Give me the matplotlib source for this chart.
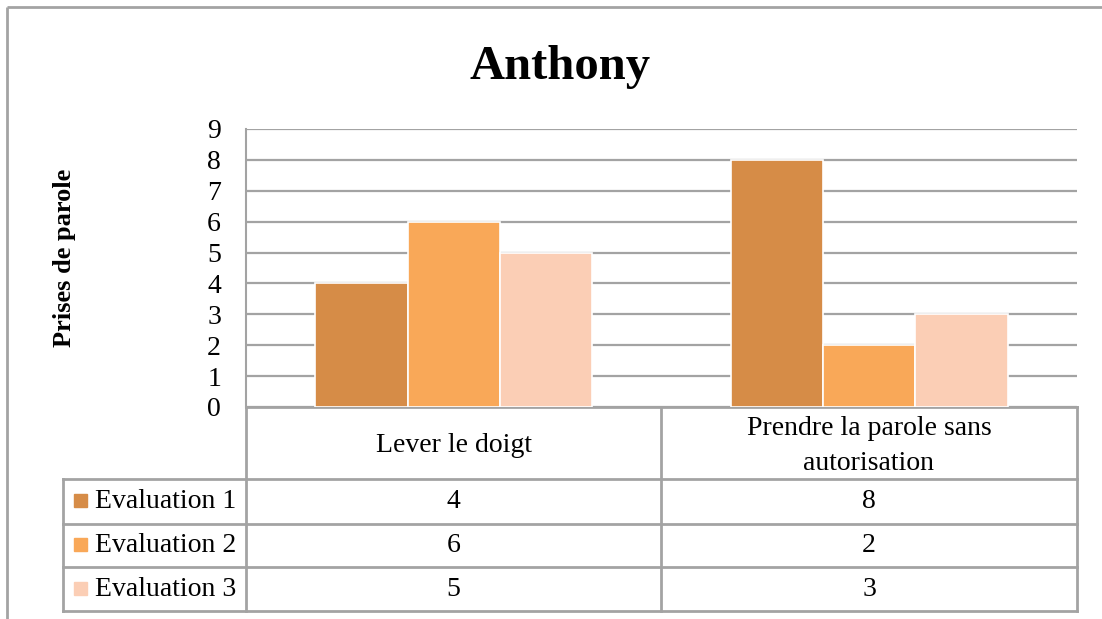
import matplotlib
matplotlib.use("Agg")
import matplotlib.pyplot as plt
import numpy as np

# ---- data ----
title = "Anthony"
ylabel = "Prises de parole"
categories = ["Lever le doigt", "Prendre la parole sans\nautorisation"]
series_names = ["Evaluation 1", "Evaluation 2", "Evaluation 3"]
eval1 = [4, 8]
eval2 = [6, 2]
eval3 = [5, 3]
colors = ["#D68C47", "#F9A858", "#FBCEB5"]
yticks = list(range(0, 10))

series = [eval1, eval2, eval3]

W, H = 1102, 619
fig = plt.figure(figsize=(W / 100, H / 100), dpi=100)
plt.rcParams['font.family'] = ['Liberation Serif', 'DejaVu Serif']

def fx(x):
    return x / W

def fy(y):
    return 1 - y / H

GRID = "#A3A3A3"

# overlay axes in pixel coordinates for frame and table
ov = fig.add_axes([0, 0, 1, 1])
ov.set_xlim(0, W)
ov.set_ylim(H, 0)
ov.axis("off")

# outer chart border
ov.plot([7, W], [7, 7], color=GRID, lw=2, solid_capstyle="butt")
ov.plot([7, 7], [7, H], color=GRID, lw=2, solid_capstyle="butt")

# plot area
L, R, T, B = 246, 1077, 129, 407
ax = fig.add_axes([fx(L), fy(B), fx(R) - fx(L), fy(T) - fy(B)])
ax.set_xlim(-0.5, len(categories) - 0.5)
ax.set_ylim(0, 9)
ax.set_yticks(yticks)
ax.set_yticklabels([str(t) for t in yticks], fontsize=20)
ax.set_xticks([])
ax.tick_params(axis="y", length=0, pad=18)
for s in ["top", "right", "bottom"]:
    ax.spines[s].set_visible(False)
ax.spines["left"].set_color(GRID)
ax.spines["left"].set_linewidth(1.5)
ax.yaxis.grid(True, color=GRID, lw=1.6)
ax.set_axisbelow(True)

x = np.arange(len(categories))
bw = 0.222
for i, vals in enumerate(series):
    ax.bar(x + (i - 1) * bw, vals, width=bw, color=colors[i],
           edgecolor="white", linewidth=1.2, zorder=3)

fig.text(fx(65), fy(258), ylabel, fontsize=19, fontweight="bold",
         rotation=90, ha="center", va="center")

fig.text(fx(560), fy(67), title, fontsize=35, fontweight="bold",
         ha="center", va="center")

# ---- data table ----
col_x = [L, 661, R]
row_y = [B, 479, 524, 567, 611]
LEG = 63
lw = 2
ov.plot([L, R], [B, B], color=GRID, lw=lw)
for yy in row_y[1:]:
    ov.plot([LEG, R], [yy, yy], color=GRID, lw=lw)
for xx in col_x:
    ov.plot([xx, xx], [B, row_y[-1]], color=GRID, lw=lw)
ov.plot([LEG, LEG], [row_y[1], row_y[-1]], color=GRID, lw=lw)

fs = 20
for j, cat in enumerate(categories):
    cx = (col_x[j] + col_x[j + 1]) / 2
    cy = (row_y[0] + row_y[1]) / 2
    ov.text(cx, cy + 3, cat, fontsize=fs, ha="center", va="center",
            linespacing=1.5)
    for i, vals in enumerate(series):
        ry = (row_y[i + 1] + row_y[i + 2]) / 2
        ov.text(cx, ry, str(vals[j]), fontsize=fs, ha="center", va="center")

for i, name in enumerate(series_names):
    ry = (row_y[i + 1] + row_y[i + 2]) / 2
    ov.add_patch(plt.Rectangle((74, ry - 7.5), 13, 13, color=colors[i]))
    ov.text(95, ry, name, fontsize=fs, ha="left", va="center")

fig.savefig("out.png", dpi=100)
